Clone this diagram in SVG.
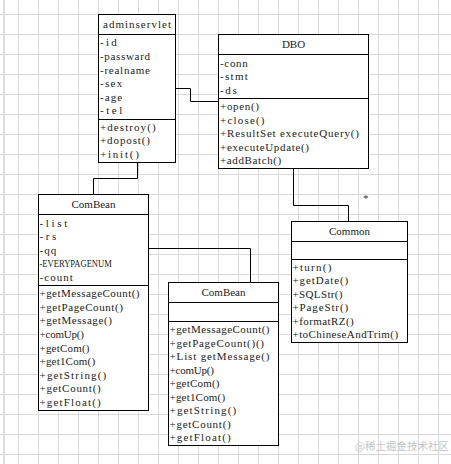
<svg xmlns="http://www.w3.org/2000/svg" width="451" height="464" viewBox="0 0 451 464">
<style>
.box{fill:#fff;stroke:#000;stroke-width:1}
.sep{stroke:#000;stroke-width:1}
.t{font-family:"Liberation Serif","Noto Sans CJK SC",serif;font-size:11px;fill:#222}
.title{font-family:"Liberation Serif","Noto Sans CJK SC",serif;font-size:11px;fill:#222;text-anchor:middle}
.conn{fill:none;stroke:#000;stroke-width:1}
.star{font-family:"Liberation Serif",serif;font-size:11px;fill:#333}
.wm{font-family:"Noto Sans CJK SC",sans-serif;font-size:10.5px;fill:#c4c4c4}
</style>
<defs>
<pattern id="grid" patternUnits="userSpaceOnUse" x="18" y="14" width="20" height="20">
<path d="M0 0.5H20M0.5 0V20" stroke="#d9d9d9" stroke-width="1" fill="none"/>
</pattern>
</defs>
<rect width="451" height="464" fill="#fff"/>
<rect width="451" height="464" fill="url(#grid)"/>
<rect x="3" y="0" width="2" height="464" fill="#dedede"/>

<g id="connectors">
<polyline class="conn" points="175,88.5 190.5,88.5 190.5,101.5 218,101.5"/>
<polyline class="conn" points="137.5,162 137.5,178.5 93.5,178.5 93.5,194"/>
<polyline class="conn" points="148,248.5 250.5,248.5 250.5,282"/>
<polyline class="conn" points="293.5,168 293.5,205.5 348.5,205.5 348.5,221"/>
<text class="star" x="363" y="202">*</text>
</g>

<g id="adminservlet">
<rect class="box" x="98.5" y="14.5" width="77" height="148"/>
<line class="sep" x1="98.5" y1="34.5" x2="175.5" y2="34.5"/>
<line class="sep" x1="98.5" y1="119.5" x2="175.5" y2="119.5"/>
<text class="title" x="137" y="28" textLength="68" lengthAdjust="spacing">adminservlet</text>
<text class="t" x="100" y="46.3" textLength="16.7" lengthAdjust="spacing">-id</text>
<text class="t" x="100" y="59.9" textLength="50" lengthAdjust="spacing">-passward</text>
<text class="t" x="100" y="73.5" textLength="50" lengthAdjust="spacing">-realname</text>
<text class="t" x="100" y="87.1" textLength="22.2" lengthAdjust="spacing">-sex</text>
<text class="t" x="100" y="100.7" textLength="22.2" lengthAdjust="spacing">-age</text>
<text class="t" x="100" y="114.3" textLength="22.2" lengthAdjust="spacing">-tel</text>
<text class="t" x="100" y="130.7" textLength="55.6" lengthAdjust="spacing">+destroy()</text>
<text class="t" x="100" y="144.3" textLength="50" lengthAdjust="spacing">+dopost()</text>
<text class="t" x="100" y="157.9" textLength="38.9" lengthAdjust="spacing">+init()</text>
</g>

<g id="DBO">
<rect class="box" x="218.5" y="34.5" width="150" height="134"/>
<line class="sep" x1="218.5" y1="54.5" x2="368.5" y2="54.5"/>
<line class="sep" x1="218.5" y1="98.5" x2="368.5" y2="98.5"/>
<text class="title" x="293.5" y="48">DBO</text>
<text class="t" x="220" y="66.7" textLength="27.8" lengthAdjust="spacing">-conn</text>
<text class="t" x="220" y="80.3" textLength="27.8" lengthAdjust="spacing">-stmt</text>
<text class="t" x="220" y="93.9" textLength="16.7" lengthAdjust="spacing">-ds</text>
<text class="t" x="220" y="110" textLength="38.9" lengthAdjust="spacing">+open()</text>
<text class="t" x="220" y="123.6" textLength="44.5" lengthAdjust="spacing">+close()</text>
<text class="t" x="220" y="137.2" textLength="139" lengthAdjust="spacing">+ResultSet executeQuery()</text>
<text class="t" x="220" y="150.8" textLength="89" lengthAdjust="spacing">+executeUpdate()</text>
<text class="t" x="220" y="164.4" textLength="61.2" lengthAdjust="spacing">+addBatch()</text>
</g>

<g id="ComBean1">
<rect class="box" x="38.5" y="194.5" width="110" height="216"/>
<line class="sep" x1="38.5" y1="214.5" x2="148.5" y2="214.5"/>
<line class="sep" x1="38.5" y1="285.5" x2="148.5" y2="285.5"/>
<text class="title" x="93.5" y="208">ComBean</text>
<text class="t" x="39.5" y="226.7" textLength="27.8" lengthAdjust="spacing">-list</text>
<text class="t" x="39.5" y="240.3" textLength="16.7" lengthAdjust="spacing">-rs</text>
<text class="t" x="39.5" y="253.9" textLength="16.7" lengthAdjust="spacing">-qq</text>
<text class="t" x="39.5" y="267" textLength="72.3" lengthAdjust="spacingAndGlyphs">-EVERYPAGENUM</text>
<text class="t" x="39.5" y="281.1" textLength="33.4" lengthAdjust="spacing">-count</text>
<text class="t" x="39.5" y="297.3" textLength="100" lengthAdjust="spacing">+getMessageCount()</text>
<text class="t" x="39.5" y="310.9" textLength="83.4" lengthAdjust="spacing">+getPageCount()</text>
<text class="t" x="39.5" y="324.4" textLength="72.3" lengthAdjust="spacing">+getMessage()</text>
<text class="t" x="39.5" y="338" textLength="44.5" lengthAdjust="spacing">+comUp()</text>
<text class="t" x="39.5" y="351.5" textLength="50" lengthAdjust="spacing">+getCom()</text>
<text class="t" x="39.5" y="365.1" textLength="55.6" lengthAdjust="spacing">+get1Com()</text>
<text class="t" x="39.5" y="378.6" textLength="66.7" lengthAdjust="spacing">+getString()</text>
<text class="t" x="39.5" y="392.2" textLength="61.2" lengthAdjust="spacing">+getCount()</text>
<text class="t" x="39.5" y="405.7" textLength="61.2" lengthAdjust="spacing">+getFloat()</text>
</g>

<g id="ComBean2">
<rect class="box" x="168.5" y="282.5" width="110" height="163"/>
<line class="sep" x1="168.5" y1="302.5" x2="278.5" y2="302.5"/>
<line class="sep" x1="168.5" y1="321.5" x2="278.5" y2="321.5"/>
<text class="title" x="223.5" y="296.3">ComBean</text>
<text class="t" x="169.5" y="333" textLength="100" lengthAdjust="spacing">+getMessageCount()</text>
<text class="t" x="169.5" y="346.5" textLength="94.5" lengthAdjust="spacing">+getPageCount()()</text>
<text class="t" x="169.5" y="360" textLength="100" lengthAdjust="spacing">+List getMessage()</text>
<text class="t" x="169.5" y="373.5" textLength="44.5" lengthAdjust="spacing">+comUp()</text>
<text class="t" x="169.5" y="387" textLength="50" lengthAdjust="spacing">+getCom()</text>
<text class="t" x="169.5" y="400.5" textLength="55.6" lengthAdjust="spacing">+get1Com()</text>
<text class="t" x="169.5" y="414" textLength="66.7" lengthAdjust="spacing">+getString()</text>
<text class="t" x="169.5" y="427.5" textLength="61.2" lengthAdjust="spacing">+getCount()</text>
<text class="t" x="169.5" y="441" textLength="61.2" lengthAdjust="spacing">+getFloat()</text>
</g>

<g id="Common">
<rect class="box" x="291.5" y="221.5" width="116" height="121"/>
<line class="sep" x1="291.5" y1="241.5" x2="407.5" y2="241.5"/>
<line class="sep" x1="291.5" y1="259.5" x2="407.5" y2="259.5"/>
<text class="title" x="349.5" y="234.5">Common</text>
<text class="t" x="292.5" y="270.7" textLength="38.9" lengthAdjust="spacing">+turn()</text>
<text class="t" x="292.5" y="284.2" textLength="55.6" lengthAdjust="spacing">+getDate()</text>
<text class="t" x="292.5" y="297.7" textLength="50" lengthAdjust="spacing">+SQLStr()</text>
<text class="t" x="292.5" y="311.2" textLength="55.6" lengthAdjust="spacing">+PageStr()</text>
<text class="t" x="292.5" y="324.7" textLength="61.2" lengthAdjust="spacing">+formatRZ()</text>
<text class="t" x="292.5" y="338.2" textLength="105.6" lengthAdjust="spacing">+toChineseAndTrim()</text>
</g>

<text class="wm" x="355" y="450">@稀土掘金技术社区</text>
</svg>
